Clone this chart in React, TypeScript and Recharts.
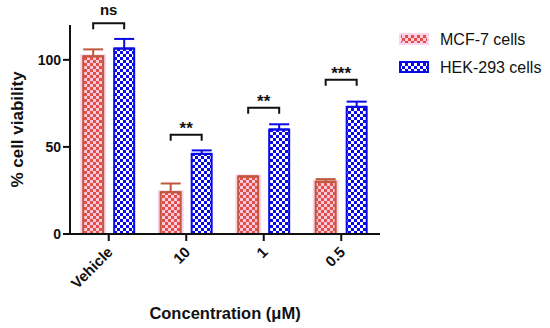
import React from "react";
import { BarChart, Bar, XAxis, YAxis, ErrorBar } from "recharts";

const categories = ["Vehicle", "10", "1", "0.5"];
const mcf7 = [102, 24, 33, 30];
const mcf7Err = [4, 5, 0, 1.5];
const hek293 = [106.5, 46, 60, 73];
const hek293Err = [5.5, 2, 3, 3];
const sigLabels = ["ns", "**", "**", "***"];
const bracketAt = [121, 57, 72.5, 88.5];
const yTicks = [0, 50, 100];

const data = categories.map((c, i) => ({
  name: c,
  mcf: mcf7[i],
  mcfErr: [0, mcf7Err[i]],
  hek: hek293[i],
  hekErr: [0, hek293Err[i]],
  sig: sigLabels[i],
  bracket: bracketAt[i],
}));

const FONT = "'Liberation Sans', Arial, sans-serif";
const RED = "#e0504a";
const RED_EDGE = "#c0583e";
const PINK = "#ffc9dc";
const HALO = "#fbd3ea";
const BLUE = "#0a0ae6";
const BAR_GAP = 11;

function McfShape(props: any) {
  const { x, y, width, height } = props;
  if (!height) return null;
  return (
    <g>
      <rect x={x - 3} y={y - 2} width={width + 6} height={height + 2} fill={HALO} />
      <rect x={x} y={y} width={width} height={height} fill="url(#chkRed)" stroke={RED_EDGE} strokeWidth={2} />
    </g>
  );
}

function HekShape(props: any) {
  const { x, y, width, height, payload } = props;
  const ppu = height / payload.hek;
  const by = y + height - payload.bracket * ppu;
  const x2 = x + width / 2;
  const x1 = x2 - width - BAR_GAP;
  return (
    <g>
      <rect x={x} y={y} width={width} height={height} fill="url(#chkBlue)" stroke={BLUE} strokeWidth={2} />
      <path d={`M${x1},${by + 6} V${by} H${x2} V${by + 6}`} fill="none" stroke="#111" strokeWidth={2} />
      <text
        x={(x1 + x2) / 2}
        y={payload.sig === "ns" ? by - 8 : by - 1}
        textAnchor="middle"
        fontFamily={FONT}
        fontWeight="bold"
        fontSize={payload.sig === "ns" ? 15 : 17}
        fill="#111"
      >
        {payload.sig}
      </text>
    </g>
  );
}

function XTick(props: any) {
  const { x, y, payload } = props;
  return (
    <text
      x={x + 5}
      y={y + 10}
      transform={`rotate(-45 ${x + 5} ${y + 10})`}
      textAnchor="end"
      fontFamily={FONT}
      fontWeight="bold"
      fontSize={15}
      fill="#111"
    >
      {payload.value}
    </text>
  );
}

function LegendBox() {
  const items = [
    { label: "MCF-7 cells", fill: "url(#chkRedL)", edge: HALO },
    { label: "HEK-293 cells", fill: "url(#chkBlueL)", edge: BLUE },
  ];
  return (
    <svg width={160} height={60} style={{ position: "absolute", left: 399, top: 32 }}>
      <defs>
        <pattern id="chkRedL" width="6" height="6" patternUnits="userSpaceOnUse">
          <rect width="6" height="6" fill={RED} />
          <rect width="3" height="3" fill={PINK} />
          <rect x="3" y="3" width="3" height="3" fill={PINK} />
        </pattern>
        <pattern id="chkBlueL" width="6" height="6" patternUnits="userSpaceOnUse">
          <rect width="6" height="6" fill={BLUE} />
          <rect width="3" height="3" fill="#fff" />
          <rect x="3" y="3" width="3" height="3" fill="#fff" />
        </pattern>
      </defs>
      {items.map((it, i) => (
        <g key={it.label} transform={`translate(0 ${i * 28})`}>
          <rect x={1} y={2} width={28} height={10} fill={it.fill} stroke={it.edge} strokeWidth={2} />
          <text x={41} y={13} fontFamily={FONT} fontSize={16} fill="#111">
            {it.label}
          </text>
        </g>
      ))}
    </svg>
  );
}

export default function App() {
  return (
    <div style={{ position: "absolute", left: 0, top: 0, width: 550, height: 328, background: "#fff" }}>
      <BarChart
        width={550}
        height={328}
        data={data}
        margin={{ top: 25, right: 170, bottom: 0, left: 0 }}
        barGap={BAR_GAP}
        barCategoryGap="17%"
      >
        <defs>
          <pattern id="chkRed" width="6" height="6" patternUnits="userSpaceOnUse">
            <rect width="6" height="6" fill={RED} />
            <rect width="3" height="3" fill={PINK} />
            <rect x="3" y="3" width="3" height="3" fill={PINK} />
          </pattern>
          <pattern id="chkBlue" width="6" height="6" patternUnits="userSpaceOnUse">
            <rect width="6" height="6" fill={BLUE} />
            <rect width="3" height="3" fill="#fff" />
            <rect x="3" y="3" width="3" height="3" fill="#fff" />
          </pattern>
        </defs>
        <XAxis
          dataKey="name"
          height={94}
          tick={<XTick />}
          tickLine={{ stroke: "#111", strokeWidth: 2 }}
          axisLine={{ stroke: "#111", strokeWidth: 2 }}
          tickSize={7}
          interval={0}
          label={{
            value: "Concentration (\u03bcM)",
            position: "insideBottom",
            offset: 9,
            fontFamily: FONT,
            fontWeight: "bold",
            fontSize: 16.5,
            fill: "#111",
          }}
        />
        <YAxis
          width={70}
          domain={[0, 120]}
          ticks={yTicks}
          tick={{ fontFamily: FONT, fontWeight: "bold", fontSize: 14, fill: "#111" }}
          tickLine={{ stroke: "#111", strokeWidth: 2 }}
          axisLine={{ stroke: "#111", strokeWidth: 2 }}
          tickSize={7}
          label={{
            value: "% cell viability",
            angle: -90,
            position: "insideLeft",
            offset: 17,
            style: { textAnchor: "middle" },
            fontFamily: FONT,
            fontWeight: "bold",
            fontSize: 17,
            fill: "#111",
          }}
        />
        <Bar dataKey="mcf" name="MCF-7 cells" shape={<McfShape />} isAnimationActive={false}>
          <ErrorBar dataKey="mcfErr" width={10} stroke={RED_EDGE} strokeWidth={2} isAnimationActive={false} />
        </Bar>
        <Bar dataKey="hek" name="HEK-293 cells" shape={<HekShape />} isAnimationActive={false}>
          <ErrorBar dataKey="hekErr" width={10} stroke={BLUE} strokeWidth={2} isAnimationActive={false} />
        </Bar>
      </BarChart>
      <LegendBox />
    </div>
  );
}
